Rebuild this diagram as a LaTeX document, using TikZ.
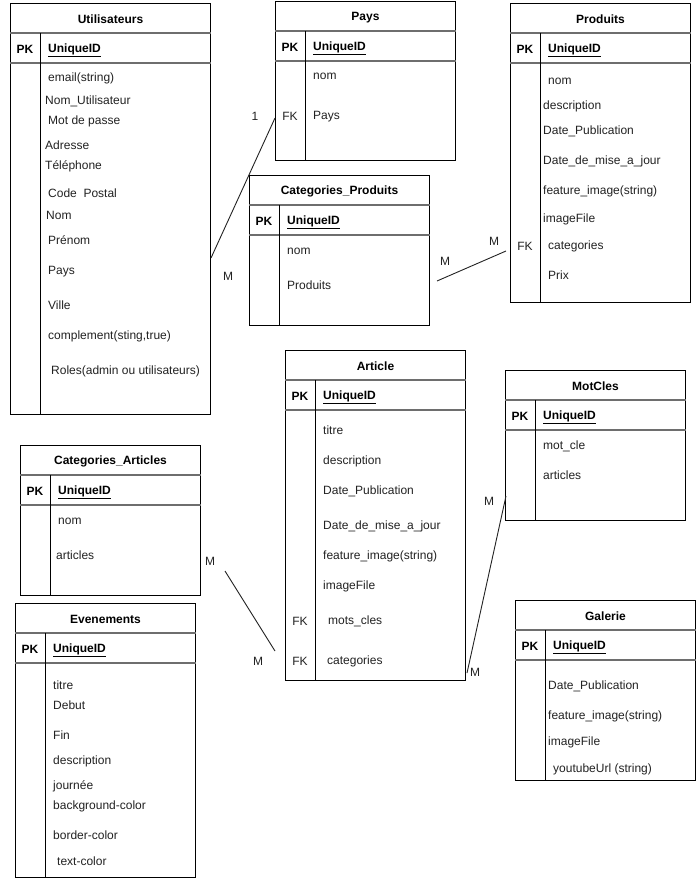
\documentclass[tikz,border=0pt]{standalone}
\usepackage{fontspec}
\setmainfont{Liberation Sans}
\usetikzlibrary{calc}
\definecolor{txt}{HTML}{222222}
\definecolor{sepc}{HTML}{6E6E6E}
\tikzset{
  tbl/.style={draw=black, line width=1pt, fill=white, rectangle, inner sep=0pt},
  sepline/.style={draw=sepc, line width=1.5pt},
  colline/.style={draw=black, line width=1pt},
  ttl/.style={font=\fontsize{12}{14}\selectfont\bfseries, text=black, inner sep=0pt, yshift=-1.5pt},
  pkf/.style={font=\fontsize{12}{14}\selectfont\bfseries, text=black, inner sep=0pt, yshift=-1.5pt},
  fkf/.style={font=\fontsize{12}{14}\selectfont, text=txt, inner sep=0pt, yshift=-1.5pt},
  fld/.style={font=\fontsize{12}{14}\selectfont, text=txt, inner sep=0pt, anchor=west, text height=8.8pt, text depth=2.6pt, yshift=-1.5pt},
  uid/.style={font=\fontsize{12}{14}\selectfont\bfseries, text=black, inner sep=0pt, anchor=west, text height=8.8pt, text depth=2.6pt, yshift=-1.5pt},
  conn/.style={draw=txt, line width=0.9pt},
  card/.style={font=\fontsize{12}{14}\selectfont, text=txt, inner sep=0pt, yshift=-1.5pt},
}
\newcommand\ertable[6]{%
  \node[tbl, minimum width=#4pt, minimum height=#5pt, anchor=north west] (#1) at (#2,#3) {};
  \draw[sepline] ([yshift=-30pt]#1.north west) -- ([yshift=-30pt]#1.north east);
  \draw[sepline] ([yshift=-60pt]#1.north west) -- ([yshift=-60pt]#1.north east);
  \draw[colline] ([xshift=30pt,yshift=-30pt]#1.north west) -- ([xshift=30pt]#1.south west);
  \node[ttl] (#1-title) at ([yshift=-15pt]#1.north) {#6};
  \node[pkf] (#1-pk) at ([xshift=15pt,yshift=-45pt]#1.north west) {PK};
  \node[uid] (#1-id) at ([xshift=38pt,yshift=-45pt]#1.north west) {\underline{UniqueID}};
}
\begin{document}
\begin{tikzpicture}[x=1pt,y=-1pt]
\useasboundingbox[fill=white] (0,0) rectangle (696,878);

% ---------- Utilisateurs
\ertable{util}{10}{3}{200}{411}{Utilisateurs}
\node[fld] (u1) at (48,77) {email(string)};
\node[fld] (u2) at (45,100) {Nom\_Utilisateur};
\node[fld] (u3) at (48,120) {Mot de passe};
\node[fld] (u4) at (45,145) {Adresse};
\node[fld] (u5) at (45,165) {Téléphone};
\node[fld] (u6) at (48,193) {Code~~Postal};
\node[fld] (u7) at (46,215) {Nom};
\node[fld] (u8) at (48,240) {Prénom};
\node[fld] (u9) at (48,270) {Pays};
\node[fld] (u10) at (48,305) {Ville};
\node[fld] (u11) at (48,335) {complement(sting,true)};
\node[fld] (u12) at (51,370) {Roles(admin ou utilisateurs)};

% ---------- Pays
\ertable{pays}{275}{1}{180}{159}{Pays}
\node[fld] (p1) at (313,75) {nom};
\node[fkf] (pfk) at (290,115) {FK};
\node[fld] (p2) at (313,115) {Pays};

% ---------- Categories_Produits
\ertable{catp}{249}{175}{180}{150}{Categories\_Produits}
\node[fld] (cp1) at (287,250) {nom};
\node[fld] (cp2) at (287,285) {Produits};

% ---------- Produits
\ertable{prod}{510}{3}{180}{299}{Produits}
\node[fld] (pr1) at (548,80) {nom};
\node[fld] (pr2) at (543,105) {description};
\node[fld] (pr3) at (543,130) {Date\_Publication};
\node[fld] (pr4) at (543,160) {Date\_de\_mise\_a\_jour};
\node[fld] (pr5) at (543,190) {feature\_image(string)};
\node[fld] (pr6) at (543,218) {imageFile};
\node[fkf] (prfk) at (525,245) {FK};
\node[fld] (pr7) at (548,245) {categories};
\node[fld] (pr8) at (548,275) {Prix};

% ---------- Article
\ertable{art}{285}{350}{180}{330}{Article}
\node[fld] (a1) at (323,430) {titre};
\node[fld] (a2) at (323,460) {description};
\node[fld] (a3) at (323,490) {Date\_Publication};
\node[fld] (a4) at (323,525) {Date\_de\_mise\_a\_jour};
\node[fld] (a5) at (323,555) {feature\_image(string)};
\node[fld] (a6) at (323,585) {imageFile};
\node[fkf] (afk1) at (300,620) {FK};
\node[fld] (a7) at (328,620) {mots\_cles};
\node[fkf] (afk2) at (300,660) {FK};
\node[fld] (a8) at (327,660) {categories};

% ---------- MotCles
\ertable{mot}{505}{370}{180}{150}{MotCles}
\node[fld] (m1) at (543,445) {mot\_cle};
\node[fld] (m2) at (543,475) {articles};

% ---------- Categories_Articles
\ertable{cata}{20}{445}{180}{150}{Categories\_Articles}
\node[fld] (ca1) at (58,520) {nom};
\node[fld] (ca2) at (56,555) {articles};

% ---------- Evenements
\ertable{even}{15}{603}{180}{274}{Evenements}
\node[fld] (e1) at (53,685) {titre};
\node[fld] (e2) at (53,705) {Debut};
\node[fld] (e3) at (53,735) {Fin};
\node[fld] (e4) at (53,760) {description};
\node[fld] (e5) at (53,785) {journée};
\node[fld] (e6) at (53,805) {background-color};
\node[fld] (e7) at (53,835) {border-color};
\node[fld] (e8) at (57,861) {text-color};

% ---------- Galerie
\ertable{gal}{515}{600}{180}{180}{Galerie}
\node[fld] (g1) at (548,685) {Date\_Publication};
\node[fld] (g2) at (548,715) {feature\_image(string)};
\node[fld] (g3) at (548,741) {imageFile};
\node[fld] (g4) at (553,768) {youtubeUrl (string)};

% ---------- connectors
\coordinate (c1a) at ($(util.north east)+(0,255)$);
\coordinate (c1b) at ($(pays.north west)+(0,117)$);
\draw[conn] (c1a) -- (c1b);
\node[card] (l1a) at (228,275) {M};
\node[card] (l1b) at (255,115) {1};

\coordinate (c2a) at ($(catp.north east)+(7,106)$);
\coordinate (c2b) at ($(prod.north west)+(-4,248)$);
\draw[conn] (c2a) -- (c2b);
\node[card] (l2a) at (445,260) {M};
\node[card] (l2b) at (494,240) {M};

\coordinate (c3a) at ($(cata.north east)+(24,126)$);
\coordinate (c3b) at ($(art.north west)+(-10,301)$);
\draw[conn] (c3a) -- (c3b);
\node[card] (l3a) at (210,560) {M};
\node[card] (l3b) at (258,660) {M};

\coordinate (c4a) at ($(mot.north west)+(1,126)$);
\coordinate (c4b) at ($(art.north east)+(1,323)$);
\draw[conn] (c4a) -- (c4b);
\node[card] (l4a) at (489,500) {M};
\node[card] (l4b) at (475,671) {M};
\end{tikzpicture}
\end{document}
